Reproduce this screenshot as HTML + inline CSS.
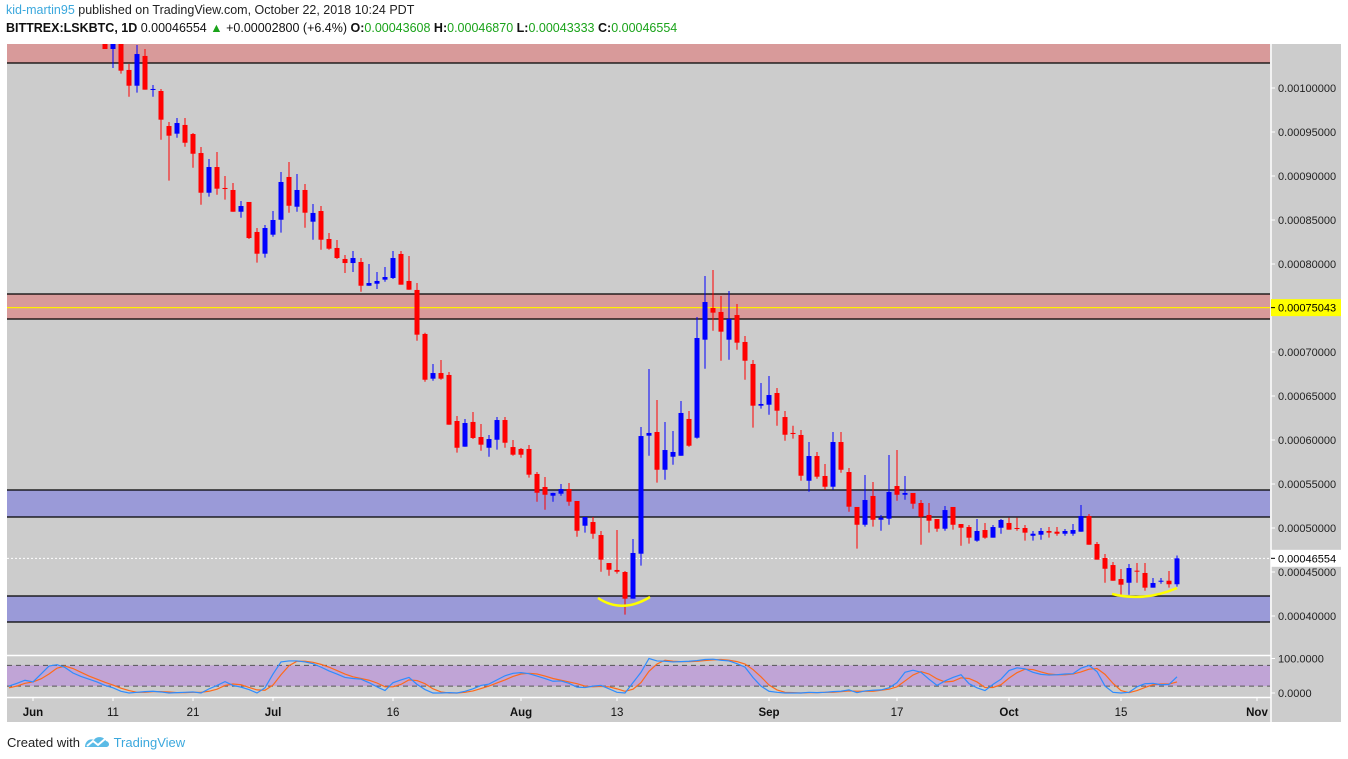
<!DOCTYPE html>
<html><head><meta charset="utf-8">
<style>
html,body{margin:0;padding:0;background:#fff;}
body{width:1348px;height:759px;overflow:hidden;font-family:"Liberation Sans",sans-serif;}
#hdr1{position:absolute;left:6px;top:3px;font-size:12.5px;color:#222;}
#hdr2{position:absolute;left:6px;top:21px;font-size:12.5px;color:#111;}
.g{color:#1aa31a}.b{font-weight:bold}
#foot{position:absolute;left:7px;top:733px;font-size:13px;color:#222;}
#foot .tv{color:#3ba8dd;margin-left:4px}
svg{position:absolute;left:0;top:0}
</style></head><body>
<div id="hdr1"><span style="color:#3ba8dd">kid-martin95</span> published on TradingView.com, October 22, 2018 10:24 PDT</div>
<div id="hdr2"><span class="b">BITTREX:LSKBTC, 1D</span> 0.00046554 <span class="g">▲</span> +0.00002800 (+6.4%) <span class="b">O:</span><span class="g">0.00043608</span> <span class="b">H:</span><span class="g">0.00046870</span> <span class="b">L:</span><span class="g">0.00043333</span> <span class="b">C:</span><span class="g">0.00046554</span></div>
<svg id="chart" width="1348" height="759"></svg>
<div id="foot">Created with <svg width="26" height="14" style="position:relative;left:0;top:2px;display:inline-block"><path d="M1 12 C1 6 6 3 10 5 C12 1 20 1 22 6 C26 7 26 12 22 12 Z" fill="#5bbbe6"/><path d="M3 11 L9 6 L14 10 L21 4" stroke="#fff" stroke-width="2" fill="none"/></svg><span class="tv">TradingView</span></div>
<script>
// prices in 1e-8 BTC (satoshi), daily candles from Jun 10 2018
const startDay = 10; // Jun 10
const opens = [105680,104430,106020,102050,100260,103640,99810,99660,95680,94810,95800,94770,92610,88100,91020,88640,88410,85940,87050,83640,81170,83330,85030,89890,86510,88410,84810,86020,82840,81820,80570,80110,80230,77530,77760,78220,78410,81140,78070,77050,72050,66970,67610,67390,62160,59240,62050,60340,59120,60030,62270,59200,58980,58980,56140,54660,53670,53900,54430,53070,50260,50680,49200,46020,45230,45000,41970,47080,60490,60910,56620,58100,58210,62390,60260,71400,75000,74550,71400,74200,71140,68640,63900,64010,65340,62610,60800,60570,55370,58180,55910,54690,59770,56360,52390,50370,53640,50940,51060,54770,53780,53980,52840,51480,51020,49920,52390,50450,50110,48560,49770,48900,50030,50570,50000,50000,49120,49240,49660,49580,49350,49350,49580,51360,48180,46590,45790,44200,43780,45150,44890,43220,43980,44010,43608];
const highs = [106590,106590,106590,102730,104890,104430,100340,99890,96140,96590,96590,94890,93300,91930,92730,90000,89200,87160,87050,84090,84430,86020,90450,91590,90230,89090,86820,86590,83520,82730,81020,81480,80680,80000,79090,79660,81480,81480,80910,77840,72190,68640,69090,67730,62730,62390,63180,61820,60570,62610,62610,60000,59090,59430,56360,55800,54010,55000,55110,53070,51250,51250,49660,46020,49770,45110,48750,61480,68070,64550,62050,61020,64430,63300,73980,78640,79320,76360,76930,75450,71820,69090,66480,67270,65910,63300,61620,61140,59770,58640,57270,60910,60910,56820,52390,56020,55230,51480,58290,58860,55910,53980,53180,52840,51020,52500,52390,50450,50340,51020,50570,50340,51020,51170,51170,50340,49660,50000,50110,50110,49890,50450,52610,51590,48410,47050,46130,45340,45910,46020,46020,44320,44320,45110,46870];
const lows = [104430,102270,101630,99010,99470,99810,99010,94125,89470,94350,93330,90940,86740,87650,87870,87310,85940,85260,82840,80150,80720,83100,83560,85830,85940,84120,82760,81620,81620,80570,78980,79090,76850,77530,77160,77990,78300,77650,77080,71280,66620,66740,66850,61740,58560,59240,60110,58780,58100,58900,59120,58210,57990,55720,52990,52080,52990,53670,52530,49010,49470,48780,45030,44580,44810,40150,41970,45720,58210,55150,55490,57190,58210,59240,60150,68100,72420,69010,69120,70260,66850,61400,63560,62870,61620,59920,60150,55370,54120,55600,54350,54350,56280,51850,47650,50150,50150,49690,50370,53100,53210,52190,48100,49470,49580,49690,49810,47990,48220,48440,48780,48900,49350,49810,49690,48560,48560,48670,48900,49120,49120,49120,49580,48100,46400,43780,44010,42420,42420,43780,42870,43220,43670,43220,43333];
const closes = [104430,106020,101970,100260,103860,99810,99890,96400,94580,96020,93780,92530,88100,91020,88560,88520,85940,86590,82950,81170,84090,85000,89320,86620,88410,85830,85800,82760,81740,80680,80110,80680,77530,77840,78070,78520,80680,77650,77080,71970,66850,67610,66970,61740,59120,61930,60230,59470,60110,62270,59690,58330,58330,56060,54010,53780,53980,54430,52990,49690,51250,49350,46400,45260,45030,41970,47160,60450,60800,56620,58860,58640,63070,59350,71590,75680,74470,72310,73750,71060,69010,63900,64090,65110,63330,60600,60680,55940,58180,55830,54690,59770,56620,52420,50370,53180,50940,51170,54090,53780,53980,52760,51280,50830,49920,52040,50370,50030,48900,49660,48900,50110,50910,49810,49890,49470,49350,49660,49470,49350,49660,49770,51360,48100,46400,45370,44010,43560,45450,45080,43220,43750,44010,43608,46554];
// Stochastic values, daily from May 29 (day -12 relative to Jun 10)
const stochStart = -12;
const stochK = [20,28,37,32,55,78,82,74,58,48,40,32,22,15,5,0,2,4,5,3,0,1,2,3,0,12,22,33,22,17,10,0,15,55,90,93,93,90,85,75,64,55,45,42,40,30,18,7,30,38,45,25,10,0,0,1,0,5,12,22,26,38,50,57,59,56,49,42,34,35,28,17,16,20,22,12,2,0,30,60,100,93,92,90,91,92,94,97,98,95,93,85,75,45,20,5,2,0,0,0,2,1,2,4,5,9,1,6,8,9,15,30,60,66,60,40,22,35,45,53,27,15,7,25,40,65,73,70,60,54,52,53,55,56,72,80,62,20,2,0,2,18,27,28,24,25,47];
const stochD = [15,20,28,32,41,55,72,78,71,60,49,40,31,23,14,7,2,2,4,4,3,1,1,2,2,5,11,22,26,24,16,9,8,23,53,79,92,92,89,83,75,65,55,47,42,37,29,18,18,25,38,36,27,12,3,0,0,2,6,13,20,29,38,48,55,57,55,49,42,37,32,27,20,18,19,18,12,5,11,30,63,84,95,92,91,91,92,94,96,97,95,91,84,68,47,23,9,2,1,0,1,1,2,2,4,6,5,5,5,8,11,18,35,52,62,55,41,32,34,44,42,32,16,16,24,43,59,69,68,61,55,53,53,55,61,69,71,54,28,7,1,7,16,24,26,26,32];
const priceTicks = [100000,95000,90000,85000,80000,75000,70000,65000,60000,55000,50000,45000,40000];
const timeLabels = ["Jun","11","21","Jul","16","Aug","13","Sep","17","Oct","15","Nov"];
const timeLabelDays = [-9,1,11,21,36,52,64,83,99,113,127,144]; // days relative to Jun 10
const zonesRed = [[102840,110000],[73750,76590]];
const zonesBlue = [[51250,54320],[39320,42270]];
const markPrice = 75043;

const NS="http://www.w3.org/2000/svg";
const svg=document.getElementById('chart');
function el(tag,attrs,parent){const e=document.createElementNS(NS,tag);for(const k in attrs)e.setAttribute(k,attrs[k]);(parent||svg).appendChild(e);return e;}
const PL=7,PR=1270,PT=44,PB=655;
const yP=p=>88+(100000-p)/5000*44;
const xD=d=>105+8*d;
const yS=v=>693-v*0.345;

let bg=el('rect',{x:7,y:44,width:1334,height:678,fill:'#cccccc'});

const defs=el('defs',{});
const cp=el('clipPath',{id:'pc'},defs);el('rect',{x:PL,y:PT,width:PR-PL,height:PB-PT},cp);
const cs=el('clipPath',{id:'sc'},defs);el('rect',{x:PL,y:656,width:PR-PL,height:41},cs);
const main=el('g',{'clip-path':'url(#pc)'});


function zone(z,fill,name){
  const y1=yP(z[1]),y2=yP(z[0]);
  const r=el('rect',{x:PL,y:y1,width:PR-PL,height:y2-y1,fill:fill},main);
  
  el('line',{x1:PL,x2:PR,y1:y1,y2:y1,stroke:'#000','stroke-width':1.2},main);
  el('line',{x1:PL,x2:PR,y1:y2,y2:y2,stroke:'#000','stroke-width':1.2},main);
}
zonesRed.forEach((z,i)=>zone(z,'#d89a9a','resistance-zone-'+(i+1)));
zonesBlue.forEach((z,i)=>zone(z,'#9a9ad8','support-zone-'+(i+1)));
let ml=el('line',{x1:PL,x2:PR,y1:yP(markPrice),y2:yP(markPrice),stroke:'#ffee00','stroke-width':1.2},main);

const lastC=closes[closes.length-1];
let cl=el('line',{x1:PL,x2:PR,y1:yP(lastC),y2:yP(lastC),stroke:'#fff','stroke-width':1,'stroke-dasharray':'2,2'},main);


for(let i=0;i<opens.length;i++){
  const x=xD(i),up=closes[i]>=opens[i],col=up?'#0000ff':'#ff0000';
  const g=el('g',{},main);
  
  
  el('line',{x1:x,x2:x,y1:yP(highs[i]),y2:yP(lows[i]),stroke:col,'stroke-width':1},g);
  const t=yP(Math.max(opens[i],closes[i])),b=yP(Math.min(opens[i],closes[i]));
  el('rect',{x:x-2.5,y:t,width:5,height:Math.max(1,b-t),fill:col},g);
}
// yellow arcs
let a1=el('path',{d:'M598 598 Q622 614 650 597',stroke:'#ffff00','stroke-width':2.5,fill:'none'},main);

let a2=el('path',{d:'M1112 594 Q1145 602 1177 588',stroke:'#ffff00','stroke-width':2.5,fill:'none'},main);


// separators
el('line',{x1:1271,x2:1271,y1:44,y2:722,stroke:'#fff','stroke-width':1.5});
el('line',{x1:7,x2:1271,y1:655.5,y2:655.5,stroke:'#fff','stroke-width':1.5});
el('line',{x1:7,x2:1271,y1:697.5,y2:697.5,stroke:'#fff','stroke-width':1.5});

// price axis
priceTicks.forEach(p=>{
  const y=yP(p);
  el('line',{x1:1271,x2:1275,y1:y,y2:y,stroke:'#fff'});
  const t=el('text',{x:1278,y:y+4,'font-size':11,fill:'#222','font-family':'Liberation Sans, sans-serif'});
  t.textContent=(p/1e8).toFixed(8);
  
  
});
function tag(p,fill,name){
  const y=yP(p);
  const r=el('rect',{x:1271,y:y-8.5,width:70,height:17,fill:fill});
  
  el('line',{x1:1271,x2:1275,y1:y,y2:y,stroke:'#000'});
  const t=el('text',{x:1278,y:y+4,'font-size':11,fill:'#000','font-family':'Liberation Sans, sans-serif'});
  t.textContent=(p/1e8).toFixed(8);
}
tag(markPrice,'#ffff00','marked-price-label');
tag(lastC,'#ffffff','current-price-label');

// stochastic pane
const sp=el('g',{'clip-path':'url(#sc)'});

let band=el('rect',{x:PL,y:yS(80),width:PR-PL,height:yS(20)-yS(80),fill:'#c0a4d6'},sp);

[80,20].forEach(v=>el('line',{x1:PL,x2:PR,y1:yS(v),y2:yS(v),stroke:'#555','stroke-dasharray':'5,4'},sp));
function line(arr,col,name){
  const pts=arr.map((v,i)=>xD(stochStart+i)+','+yS(v)).join(' ');
  const pl=el('polyline',{points:pts,fill:'none',stroke:col,'stroke-width':1.2},sp);
  
}
line(stochD,'#ff6a1a','stoch-d-line');
line(stochK,'#2e8cff','stoch-k-line');
[[100,'100.0000'],[0,'0.0000']].forEach(([v,s])=>{
  el('line',{x1:1271,x2:1275,y1:yS(v),y2:yS(v),stroke:'#fff'});
  const t=el('text',{x:1278,y:yS(v)+4,'font-size':11,fill:'#222','font-family':'Liberation Sans, sans-serif'});
  t.textContent=s;
  
  
});

// time axis
timeLabels.forEach((s,i)=>{
  const x=xD(timeLabelDays[i]);
  el('line',{x1:x,x2:x,y1:697,y2:701,stroke:'#fff'});
  const t=el('text',{x:x,y:716,'font-size':11.5,fill:'#111','text-anchor':'middle','font-weight':(isNaN(+s)?'bold':'normal'),'font-family':'Liberation Sans, sans-serif'});
  t.textContent=s;
  
  
});
</script>
</body></html>
